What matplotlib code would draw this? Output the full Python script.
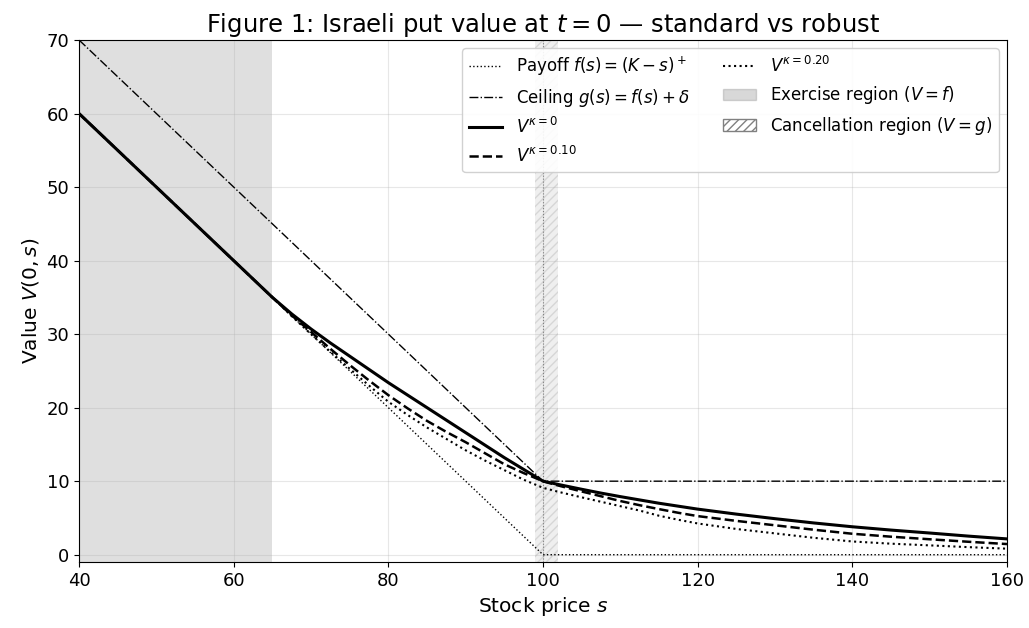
import numpy as np
import matplotlib
matplotlib.use("Agg")
from matplotlib import pyplot as plt
from matplotlib.patches import Patch

# payoff and ceiling (piecewise linear, K = 100, delta = 10)
s_payoff = [40, 100, 160]
payoff = [60, 0, 0]
s_ceiling = [40, 100, 160]
ceiling = [70, 10, 10]

# value curves
s_grid = [40, 65, 67.5, 70, 72.5, 75, 77.5, 80, 82.5, 85, 87.5, 90, 92.5, 95, 97.5, 100,
          102, 105, 107.5, 110, 112.5, 115, 117.5, 120, 125, 130, 135, 140, 145, 150, 155, 160]
v_k0 = [60, 35.0, 32.75, 30.7, 28.8, 27.0, 25.2, 23.4, 21.7, 20.0, 18.3, 16.6, 14.9, 13.2, 11.6, 10.0,
        9.55, 8.9, 8.38, 7.9, 7.45, 7.0, 6.6, 6.2, 5.52, 4.9, 4.32, 3.8, 3.35, 2.95, 2.53, 2.15]
v_k10 = [60, 35.0, 32.55, 30.3, 28.0, 25.8, 23.7, 21.7, 19.9, 18.2, 16.7, 15.3, 13.8, 12.3, 11.1, 10.0,
         9.4, 8.6, 7.95, 7.3, 6.73, 6.2, 5.7, 5.25, 4.6, 4.0, 3.4, 2.85, 2.45, 2.1, 1.76, 1.45]
v_k20 = [60, 35.0, 32.45, 30.0, 27.6, 25.3, 23.0, 20.8, 19.0, 17.3, 15.75, 14.2, 12.8, 11.5, 10.2, 9.1,
         8.55, 7.8, 7.2, 6.6, 6.0, 5.3, 4.75, 4.25, 3.5, 2.9, 2.3, 1.8, 1.5, 1.27, 1.03, 0.82]

exercise_region = (40, 65)
cancel_region = (99, 102)
strike = 100

plt.rcParams["font.size"] = 13

fig, ax = plt.subplots(figsize=(10.29, 6.28), dpi=100)
fig.subplots_adjust(left=0.0768, right=0.9786, top=0.9363, bottom=0.105)

ax.axvspan(*exercise_region, facecolor="gray", alpha=0.25, lw=0)
ax.axvspan(*cancel_region, facecolor="lightgray", alpha=0.35, edgecolor="darkgray",
           hatch="////", lw=0)
ax.axvline(strike, color="gray", ls=":", lw=0.8)

ax.plot(s_payoff, payoff, color="black", ls=":", lw=1.0)
ax.plot(s_ceiling, ceiling, color="black", ls="-.", lw=1.0)
ax.plot(s_grid, v_k0, color="black", ls="-", lw=2.2)
ax.plot(s_grid, v_k10, color="black", ls="--", lw=1.8)
ax.plot(s_grid, v_k20, color="black", ls=":", lw=1.5)

handles = [
    plt.Line2D([], [], color="black", ls=":", lw=1.0),
    plt.Line2D([], [], color="black", ls="-.", lw=1.0),
    plt.Line2D([], [], color="black", ls="-", lw=2.2),
    plt.Line2D([], [], color="black", ls="--", lw=1.8),
    plt.Line2D([], [], color="black", ls=":", lw=1.5),
    Patch(facecolor="gray", alpha=0.3, edgecolor="gray"),
    Patch(facecolor="white", edgecolor="gray", hatch="////"),
]
labels = [
    r"Payoff $f(s)=(K-s)^+$",
    r"Ceiling $g(s)=f(s)+\delta$",
    r"$V^{\kappa=0}$",
    r"$V^{\kappa=0.10}$",
    r"$V^{\kappa=0.20}$",
    r"Exercise region ($V=f$)",
    r"Cancellation region ($V=g$)",
]
ax.legend(handles, labels, loc="upper right", ncol=2, fontsize=12, framealpha=0.9)

ax.set_xlim(40, 160)
ax.set_ylim(-1, 70)
ax.set_xticks(np.arange(40, 161, 20))
ax.set_yticks(np.arange(0, 71, 10))
ax.grid(True, alpha=0.3)
ax.set_xlabel(r"Stock price $s$", fontsize=14.5)
ax.set_ylabel(r"Value $V(0,s)$", fontsize=14.5)
ax.set_title(r"Figure 1: Israeli put value at $t=0$ — standard vs robust", fontsize=17.5)

fig.savefig("out.png", dpi=100)
